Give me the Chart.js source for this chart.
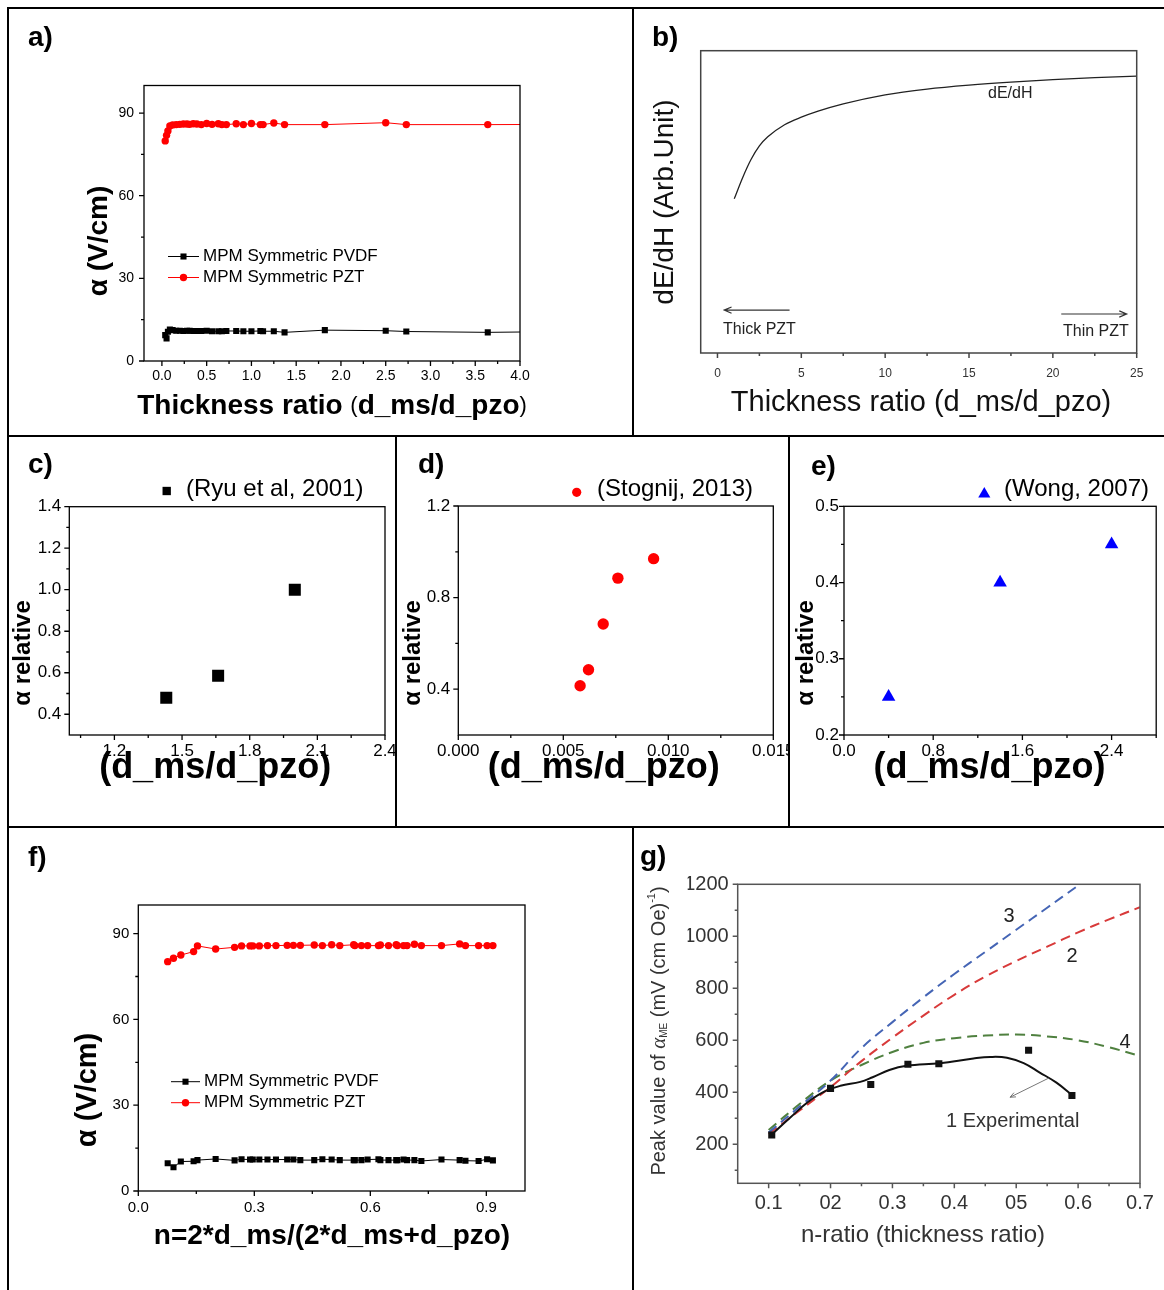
<!DOCTYPE html>
<html>
<head>
<meta charset="utf-8">
<title>ME coefficient and thickness ratio</title>
<script src="https://cdn.jsdelivr.net/npm/chart.js@4.4.1/dist/chart.umd.min.js"></script>
<style>
  html, body { margin: 0; padding: 0; background: #fff; }
  #sheet { position: relative; width: 1164px; height: 1290px; overflow: hidden; }
  #sheet canvas { position: absolute; }
  .rule { position: absolute; background: #000; z-index: 2; }
</style>
</head>
<body>
<div id="sheet">
  <div class="rule" style="left:7px;top:7px;width:1157px;height:2px"></div>
  <div class="rule" style="left:7px;top:7px;width:2px;height:1283px"></div>
  <div class="rule" style="left:632px;top:7px;width:2px;height:429px"></div>
  <div class="rule" style="left:7px;top:435px;width:1157px;height:2px"></div>
  <div class="rule" style="left:395px;top:435px;width:2px;height:393px"></div>
  <div class="rule" style="left:788px;top:435px;width:2px;height:393px"></div>
  <div class="rule" style="left:7px;top:826px;width:1157px;height:2px"></div>
  <div class="rule" style="left:632px;top:826px;width:2px;height:464px"></div>
</div>
<script>
const FONT = 'Arial, "Liberation Sans", sans-serif';

// a) alpha against d_ms/d_pzo, two symmetric MPM stacks
const aRatio = [0.037, 0.052, 0.067, 0.089, 0.12, 0.16, 0.2, 0.24, 0.28, 0.31, 0.35, 0.39, 0.44, 0.5, 0.56,
  0.63, 0.67, 0.72, 0.83, 0.91, 1.0, 1.1, 1.13, 1.25, 1.37, 1.82, 2.5, 2.73, 3.64, 4.55, 5.5];
const aPvdf = [9.4, 8.2, 10.6, 11.4, 11.2, 11.0, 11.0, 10.9, 11.0, 11.0, 10.9, 10.9, 10.9, 11.0, 10.8,
  10.8, 10.8, 10.9, 10.9, 10.8, 10.8, 10.9, 10.8, 10.8, 10.4, 11.2, 11.0, 10.7, 10.4, 10.7, 10.7];
const aPzt = [79.9, 81.9, 83.5, 85.3, 85.7, 85.8, 85.9, 86.0, 86.0, 85.9, 86.1, 86.0, 85.8, 86.2, 85.9,
  86.1, 85.8, 85.8, 86.1, 85.8, 86.2, 85.8, 85.8, 86.4, 85.8, 85.8, 86.5, 85.8, 85.8, 85.9, 85.9];

// b) dE/dH trend (arbitrary units)
const bRatio = [1, 1.5, 2, 2.5, 3, 4, 5, 6, 7.5, 10, 12.5, 15, 17.5, 20, 22.5, 25];
const bSlope = [51, 58, 64, 68.5, 71.5, 75.5, 78, 80, 82.4, 85.4, 87.3, 88.6, 89.6, 90.4, 91.1, 91.6];

// c) d) e) relative alpha from the literature
const cRatio = [1.43, 1.66, 2.0];
const cAlpha = [0.48, 0.585, 1.0];
const dRatio = [0.0058, 0.0062, 0.0069, 0.0076, 0.0093];
const dAlpha = [0.415, 0.485, 0.685, 0.885, 0.97];
const eRatio = [0.4, 1.4, 2.4];
const eAlpha = [0.25, 0.40, 0.45];

// f) alpha against n = 2*d_ms/(2*d_ms+d_pzo)
const fN = [0.076, 0.091, 0.110, 0.143, 0.153, 0.200, 0.249, 0.267, 0.289, 0.296, 0.313, 0.334, 0.356,
  0.385, 0.401, 0.419, 0.455, 0.476, 0.500, 0.521, 0.557, 0.560, 0.577, 0.593, 0.621, 0.626, 0.647,
  0.667, 0.670, 0.686, 0.695, 0.714, 0.732, 0.784, 0.831, 0.846, 0.880, 0.902, 0.917];
const fPvdf = [9.7, 8.3, 10.3, 10.4, 10.8, 11.2, 10.7, 11.1, 11.0, 11.0, 11.0, 11.0, 11.0, 11.0, 11.0,
  10.8, 10.8, 11.1, 11.0, 10.8, 10.8, 10.8, 10.8, 11.0, 11.1, 10.8, 10.8, 10.8, 10.8, 11.0, 10.8, 10.8,
  10.5, 11.0, 10.8, 10.6, 10.5, 11.1, 10.7];
const fPzt = [80.2, 81.4, 82.5, 83.7, 85.7, 84.6, 85.2, 85.7, 85.7, 85.7, 85.7, 85.8, 85.8, 85.9, 85.9,
  85.9, 86.0, 85.8, 86.1, 85.8, 86.1, 85.8, 85.8, 85.8, 85.8, 86.0, 85.8, 86.1, 85.8, 85.8, 85.8, 86.3,
  85.8, 85.8, 86.4, 85.8, 85.8, 85.8, 85.8];

// g) peak alpha_ME against n-ratio: model curves 2-4 and the experiment (1)
const gN = [0.1, 0.15, 0.2, 0.25, 0.3, 0.35, 0.4, 0.45, 0.5, 0.55, 0.6, 0.65, 0.7];
const gModel2 = [240, 330, 420, 520, 610, 695, 775, 845, 905, 960, 1015, 1065, 1112];
const gModel3 = [245, 345, 445, 570, 670, 765, 855, 940, 1025, 1110, 1195, 1280, 1365];
const gModel4 = [255, 355, 445, 505, 555, 590, 608, 618, 622, 615, 600, 573, 540];
const gFitN = [0.105, 0.135, 0.162, 0.189, 0.216, 0.248, 0.268, 0.295, 0.323, 0.377, 0.431, 0.458,
  0.485, 0.512, 0.538, 0.565, 0.592];
const gFit = [238, 303, 360, 402, 425, 440, 458, 486, 502, 512, 530, 536, 533, 512, 476, 437, 386];
const gExpN = [0.105, 0.2, 0.265, 0.325, 0.375, 0.52, 0.59];
const gExp = [236, 415, 430, 508, 510, 562, 388];
const gNTicks = [0.1, 0.2, 0.3, 0.4, 0.5, 0.6, 0.7];
const gNTickLabels = ['0.1', '02', '0.3', '0.4', '05', '0.6', '0.7'];

const xy = (xs, ys) => xs.map((x, i) => ({ x, y: ys[i] }));
const font = (size, weight) => (weight ? weight + ' ' : '') + size + 'px ' + FONT;
const range = (a, b, step) => { const out = []; for (let v = a; v <= b + step / 1e6; v += step) out.push(+v.toFixed(6)); return out; };
const UP = -Math.PI / 2;

function marker(ctx, style, x, y, r) {
  ctx.beginPath();
  if (style === 'rect') {
    const h = r * Math.SQRT1_2;
    ctx.rect(x - h, y - h, 2 * h, 2 * h);
  } else if (style === 'triangle') {
    for (let k = 0; k < 3; k++) {
      const a = k * 2 * Math.PI / 3;
      const px = x + Math.sin(a) * r, py = y - Math.cos(a) * r;
      if (k) ctx.lineTo(px, py); else ctx.moveTo(px, py);
    }
    ctx.closePath();
  } else {
    ctx.arc(x, y, r, 0, Math.PI * 2);
  }
  ctx.fill();
}

function drawText(ctx, item, ox, oy) {
  const parts = item.parts || [{ t: item.t }];
  ctx.save();
  ctx.translate(item.x - ox, item.y - oy);
  if (item.rot) ctx.rotate(item.rot);
  ctx.fillStyle = item.color || '#000';
  ctx.textAlign = 'left';
  ctx.textBaseline = item.base || 'middle';
  const widths = parts.map(p => { ctx.font = p.font || item.font; return ctx.measureText(p.t).width; });
  const total = widths.reduce((s, w) => s + w, 0);
  let x = item.align === 'left' ? 0 : -total / 2;
  parts.forEach((p, i) => {
    ctx.font = p.font || item.font;
    ctx.fillText(p.t, x, p.dy || 0);
    x += widths[i];
  });
  ctx.restore();
}

// axis box, tick marks, keys, arrows and labels for one panel
function makeSheet(spec, ox, oy) {
  return {
    id: 'sheet',
    afterDatasetsDraw(chart) {
      const { ctx, chartArea: ca, scales } = chart;
      ctx.save();
      ctx.strokeStyle = spec.box || '#000';
      ctx.lineWidth = spec.boxWidth || 1.3;
      ctx.strokeRect(ca.left, ca.top, ca.width, ca.height);

      ctx.beginPath();
      for (const id of ['x', 'y']) {
        const t = spec[id];
        if (!t) continue;
        const s = scales[id];
        const marks = s.ticks.map(k => [k.value, 5]).concat((t.minor || []).map(v => [v, 3]));
        for (const [v, len] of marks) {
          const p = s.getPixelForValue(v);
          if (id === 'x') { ctx.moveTo(p, ca.bottom); ctx.lineTo(p, ca.bottom + len); }
          else { ctx.moveTo(ca.left, p); ctx.lineTo(ca.left - len, p); }
        }
      }
      ctx.stroke();

      for (const a of spec.arrows || []) {
        const x1 = scales.x.getPixelForValue(a.from[0]), y1 = scales.y.getPixelForValue(a.from[1]);
        const x2 = scales.x.getPixelForValue(a.to[0]), y2 = scales.y.getPixelForValue(a.to[1]);
        const ang = Math.atan2(y2 - y1, x2 - x1);
        ctx.strokeStyle = a.color;
        ctx.lineWidth = a.width;
        ctx.beginPath();
        ctx.moveTo(x1, y1); ctx.lineTo(x2, y2);
        ctx.moveTo(x2 - a.head * Math.cos(ang - 0.4), y2 - a.head * Math.sin(ang - 0.4));
        ctx.lineTo(x2, y2);
        ctx.lineTo(x2 - a.head * Math.cos(ang + 0.4), y2 - a.head * Math.sin(ang + 0.4));
        ctx.stroke();
      }

      for (const k of spec.keys || []) {
        ctx.fillStyle = k.color;
        ctx.strokeStyle = k.color;
        if (k.line) {
          ctx.lineWidth = 1;
          ctx.beginPath();
          ctx.moveTo(k.line[0] - ox, k.y - oy);
          ctx.lineTo(k.line[1] - ox, k.y - oy);
          ctx.stroke();
        }
        marker(ctx, k.style, k.x - ox, k.y - oy, k.r);
        drawText(ctx, { t: k.text, x: k.tx, y: k.ty || k.y, font: k.font, align: 'left' }, ox, oy);
      }

      for (const item of spec.texts || []) drawText(ctx, item, ox, oy);
      ctx.restore();
    }
  };
}

// one chart per panel cell; plot = [left, top, right, bottom] of the axis box on the sheet
function panel(cell, plot, cfg) {
  const [cx, cy, cw, ch] = cell;
  const cv = document.createElement('canvas');
  cv.width = cw;
  cv.height = ch;
  cv.style.left = cx + 'px';
  cv.style.top = cy + 'px';
  if (cfg.soft) cv.style.filter = 'blur(' + cfg.soft + 'px)';
  document.getElementById('sheet').appendChild(cv);

  const YW = 50, XH = 30;
  const axis = (ax, horizontal) => ({
    type: 'linear',
    min: ax.min,
    max: ax.max,
    afterBuildTicks: s => { s.ticks = ax.ticks.map(v => ({ value: v })); },
    afterFit: s => {
      if (horizontal) { s.height = XH; s.paddingLeft = 0; s.paddingRight = 0; }
      else { s.width = YW; s.paddingTop = 0; s.paddingBottom = 0; }
    },
    grid: { display: false, drawTicks: false },
    border: { display: false },
    ticks: {
      display: ax.show !== false,
      autoSkip: false,
      maxRotation: 0,
      padding: ax.pad,
      color: ax.color || '#000',
      font: { family: FONT, size: ax.size },
      callback: ax.fmt
    }
  });

  return new Chart(cv, {
    type: 'scatter',
    data: { datasets: cfg.datasets },
    options: {
      responsive: false,
      animation: false,
      events: [],
      layout: {
        padding: {
          left: plot[0] - cx - YW,
          top: plot[1] - cy,
          right: cx + cw - plot[2],
          bottom: cy + ch - plot[3] - XH
        }
      },
      scales: { x: axis(cfg.x, true), y: axis(cfg.y, false) },
      plugins: { legend: { display: false }, tooltip: { enabled: false } }
    },
    plugins: [makeSheet(cfg.sheet, cx, cy)]
  });
}

const fixed = d => v => v.toFixed(d);

function mpmSets(xs, pvdf, pzt) {
  return [
    { data: xy(xs, pvdf), showLine: true, borderColor: '#000', borderWidth: 1, pointStyle: 'rect',
      pointRadius: 4.3, pointBackgroundColor: '#000', pointBorderWidth: 0 },
    { data: xy(xs, pzt), showLine: true, borderColor: '#ff0000', borderWidth: 1, pointStyle: 'circle',
      pointRadius: 3.7, pointBackgroundColor: '#ff0000', pointBorderWidth: 0 }
  ];
}

function mpmKeys(x1, x2, y1, y2, size) {
  return [
    { line: [x1, x2], x: (x1 + x2) / 2, y: y1, style: 'rect', r: 4.3, color: '#000',
      text: 'MPM Symmetric PVDF', font: font(size), tx: x2 + 4 },
    { line: [x1, x2], x: (x1 + x2) / 2, y: y2, style: 'circle', r: 3.7, color: '#ff0000',
      text: 'MPM Symmetric PZT', font: font(size), tx: x2 + 4 }
  ];
}

// a)
panel([9, 9, 623, 426], [144, 85.5, 520, 361], {
  datasets: mpmSets(aRatio, aPvdf, aPzt),
  x: { min: -0.2, max: 4.0, ticks: range(0, 4, 0.5), fmt: fixed(1), size: 14, pad: 7 },
  y: { min: 0, max: 100, ticks: [0, 30, 60, 90], fmt: fixed(0), size: 14, pad: 10 },
  sheet: {
    x: { minor: range(0.25, 3.75, 0.5) },
    y: { minor: [15, 45, 75] },
    keys: mpmKeys(168, 199, 256.5, 277.5, 17),
    texts: [
      { t: 'a)', x: 28, y: 46, base: 'alphabetic', align: 'left', font: font(28, 'bold') },
      { t: 'α (V/cm)', x: 99, y: 241, rot: UP, font: font(28, 'bold') },
      { x: 332, y: 406, parts: [
        { t: 'Thickness ratio ', font: font(28, 'bold') },
        { t: '(', font: font(22) },
        { t: 'd_ms/d_pzo', font: font(28, 'bold') },
        { t: ')', font: font(22) }
      ] }
    ]
  }
});

// b)
panel([634, 9, 530, 426], [700.7, 50.7, 1136.7, 353], {
  datasets: [
    { data: xy(bRatio, bSlope), showLine: true, borderColor: '#222', borderWidth: 1.3,
      pointRadius: 0, cubicInterpolationMode: 'monotone' }
  ],
  x: { min: -1, max: 25, ticks: range(0, 25, 5), fmt: fixed(0), size: 12, pad: 13, color: '#333' },
  y: { min: 0, max: 100, ticks: [0], show: false, size: 12, pad: 0 },
  sheet: {
    box: '#444', boxWidth: 1.5,
    x: { minor: range(2.5, 22.5, 5) },
    arrows: [
      { from: [4.3, 14.2], to: [0.4, 14.2], color: '#333', width: 1.2, head: 8 },
      { from: [20.5, 12.9], to: [24.4, 12.9], color: '#333', width: 1.2, head: 8 }
    ],
    texts: [
      { t: 'b)', x: 652, y: 46, base: 'alphabetic', align: 'left', font: font(28, 'bold') },
      { t: 'dE/dH (Arb.Unit)', x: 665, y: 202, rot: UP, font: font(28), color: '#111' },
      { t: 'Thickness ratio (d_ms/d_pzo)', x: 921, y: 403, font: font(29), color: '#111' },
      { t: 'dE/dH', x: 988, y: 94, align: 'left', font: font(16), color: '#222' },
      { t: 'Thick PZT', x: 723, y: 330, align: 'left', font: font(16), color: '#222' },
      { t: 'Thin PZT', x: 1063, y: 332, align: 'left', font: font(16), color: '#222' }
    ]
  }
});

// c) d) e) share the same look
function relPanel(cell, plot, label, labelPos, pts, key, x, y, sheetTicks) {
  return panel(cell, plot, {
    datasets: [
      { data: pts, pointStyle: key.style, pointRadius: key.big, pointBackgroundColor: key.color,
        pointBorderWidth: 0 }
    ],
    x, y,
    sheet: {
      x: { minor: sheetTicks.x },
      y: { minor: sheetTicks.y },
      keys: [{ x: key.kx, y: key.ky, style: key.style, r: key.small, color: key.color,
        text: key.text, font: font(24), tx: key.tx, ty: 489 }],
      texts: [
        { t: label, x: labelPos[0], y: labelPos[1], base: 'alphabetic', align: 'left', font: font(28, 'bold') },
        { t: 'α relative', x: labelPos[0] - 5, y: 653, rot: UP, font: font(24, 'bold') },
        { t: '(d_ms/d_pzo)', x: (plot[0] + plot[2]) / 2 - 12, y: 768, font: font(36, 'bold') }
      ]
    }
  });
}

relPanel([9, 437, 386, 389], [69.3, 506.7, 385, 735], 'c)', [28, 473], xy(cRatio, cAlpha),
  { style: 'rect', big: 8.5, small: 5.9, color: '#000', kx: 166.7, ky: 491, tx: 186, text: '(Ryu et al, 2001)' },
  { min: 1.0, max: 2.4, ticks: [1.2, 1.5, 1.8, 2.1, 2.4], fmt: fixed(1), size: 17, pad: 6.5 },
  { min: 0.3, max: 1.4, ticks: [0.4, 0.6, 0.8, 1.0, 1.2, 1.4], fmt: fixed(1), size: 17, pad: 8 },
  { x: [1.05, 1.35, 1.65, 1.95, 2.25], y: [0.5, 0.7, 0.9, 1.1, 1.3] });

relPanel([397, 437, 391, 389], [458.3, 506, 773.3, 735], 'd)', [418, 473], xy(dRatio, dAlpha),
  { style: 'circle', big: 5.7, small: 4.6, color: '#ff0000', kx: 576.7, ky: 492.3, tx: 597, text: '(Stognij, 2013)' },
  { min: 0, max: 0.015, ticks: [0, 0.005, 0.01, 0.015], fmt: fixed(3), size: 17, pad: 6.5 },
  { min: 0.2, max: 1.2, ticks: [0.4, 0.8, 1.2], fmt: fixed(1), size: 17, pad: 8 },
  { x: [0.0025, 0.0075, 0.0125], y: [0.6, 1.0] });

relPanel([790, 437, 374, 389], [844, 506.3, 1159, 735], 'e)', [811, 475], xy(eRatio, eAlpha),
  { style: 'triangle', big: 7.8, small: 7, color: '#0000ff', kx: 984.3, ky: 494, tx: 1004, text: '(Wong, 2007)' },
  { min: 0, max: 2.8, ticks: [0, 0.8, 1.6, 2.4], fmt: fixed(1), size: 17, pad: 6.5 },
  { min: 0.2, max: 0.5, ticks: [0.2, 0.3, 0.4, 0.5], fmt: fixed(1), size: 17, pad: 5 },
  { x: [0.4, 1.2, 2.0, 2.8], y: [0.25, 0.35, 0.45] });

// f)
panel([9, 828, 623, 462], [138.3, 905, 525, 1191], {
  datasets: mpmSets(fN, fPvdf, fPzt),
  x: { min: 0, max: 1.0, ticks: [0, 0.3, 0.6, 0.9], fmt: fixed(1), size: 15, pad: 8 },
  y: { min: 0, max: 100, ticks: [0, 30, 60, 90], fmt: fixed(0), size: 15, pad: 9 },
  sheet: {
    x: { minor: [0.15, 0.45, 0.75] },
    y: { minor: [15, 45, 75] },
    keys: mpmKeys(171, 200, 1081.7, 1102.7, 17),
    texts: [
      { t: 'f)', x: 28, y: 866, base: 'alphabetic', align: 'left', font: font(28, 'bold') },
      { t: 'α (V/cm)', x: 88, y: 1090, rot: UP, font: font(29, 'bold') },
      { t: 'n=2*d_ms/(2*d_ms+d_pzo)', x: 332, y: 1236, font: font(28, 'bold') }
    ]
  }
});

// g)
const dash = (color, ys) => ({ data: xy(gN, ys), showLine: true, borderColor: color, borderWidth: 2,
  borderDash: [10, 6], pointRadius: 0, tension: 0.4 });
panel([634, 828, 530, 462], [737.7, 884.3, 1140, 1183.3], {
  soft: 0.5,
  datasets: [
    { data: xy(gExpN, gExp), pointStyle: 'rect', pointRadius: 5, pointBackgroundColor: '#111', pointBorderWidth: 0 },
    { data: xy(gFitN, gFit), showLine: true, borderColor: '#111', borderWidth: 2, pointRadius: 0, tension: 0.4 },
    dash('#4565b5', gModel3),
    dash('#d83a3a', gModel2),
    dash('#4f803f', gModel4)
  ],
  x: { min: 0.05, max: 0.7, ticks: gNTicks, fmt: (v, i) => gNTickLabels[i], size: 20, pad: 8, color: '#333' },
  y: { min: 50, max: 1200, ticks: range(200, 1200, 200), fmt: fixed(0), size: 20, pad: 9, color: '#333' },
  sheet: {
    box: '#555', boxWidth: 1.5,
    x: { minor: range(0.15, 0.65, 0.1) },
    y: { minor: range(100, 1100, 200) },
    arrows: [{ from: [0.552, 454], to: [0.49, 381], color: '#777', width: 1, head: 6 }],
    texts: [
      { t: 'g)', x: 640, y: 865, base: 'alphabetic', align: 'left', font: font(28, 'bold') },
      { x: 659, y: 1031, rot: UP, color: '#333', parts: [
        { t: 'Peak value of ', font: font(20) },
        { t: 'α', font: 'italic 21px "Liberation Serif", serif' },
        { t: 'ME', font: font(10), dy: 5 },
        { t: ' (mV (cm Oe)', font: font(20) },
        { t: '-1', font: font(11), dy: -7 },
        { t: ')', font: font(20) }
      ] },
      { t: 'n-ratio (thickness ratio)', x: 923, y: 1235, font: font(24), color: '#333' },
      { t: '3', x: 1009, y: 916, font: font(20), color: '#222' },
      { t: '2', x: 1072, y: 956, font: font(20), color: '#222' },
      { t: '4', x: 1125, y: 1042, font: font(20), color: '#222' },
      { t: '1 Experimental', x: 946, y: 1121, align: 'left', font: font(20), color: '#333' }
    ]
  }
});
</script>
</body>
</html>
